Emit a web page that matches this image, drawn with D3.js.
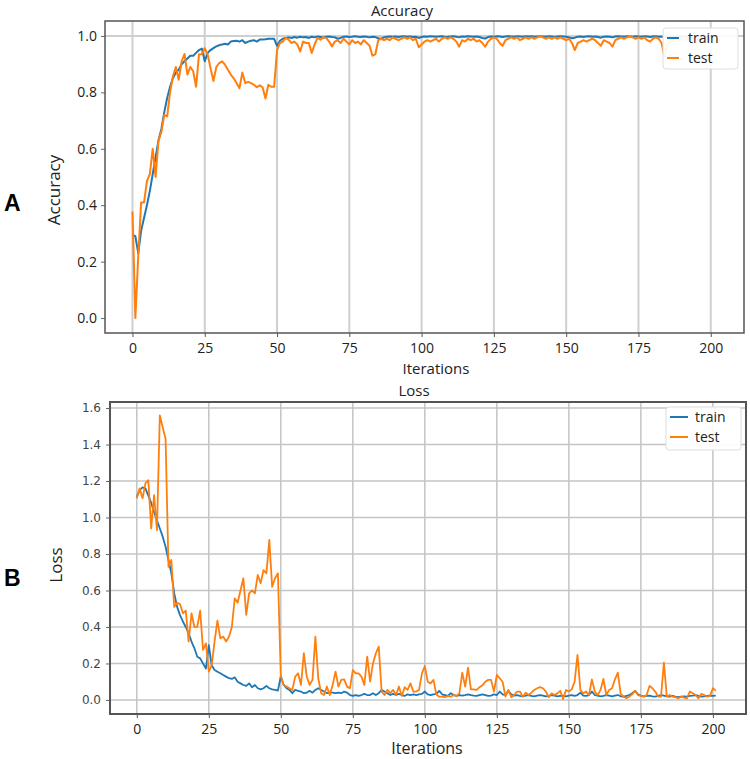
<!DOCTYPE html>
<html>
<head>
<meta charset="utf-8">
<script src="https://cdn.jsdelivr.net/npm/d3@7"></script>
<style>
body { margin: 0; background: #fff; }
svg { display: block; }
</style>
</head>
<body>
<svg id="chart" width="750" height="759"></svg>
<script>
// values, iterations 0..201
var accTrain = [
    0.295, 0.29, 0.23, 0.31, 0.355, 0.40, 0.45, 0.51, 0.57, 0.63,
    0.67, 0.73, 0.78, 0.82, 0.85, 0.87, 0.88, 0.90, 0.91, 0.92,
    0.93, 0.93, 0.94, 0.95, 0.955, 0.91, 0.94, 0.95, 0.957, 0.963,
    0.967, 0.97, 0.972, 0.97, 0.98, 0.982, 0.983, 0.98, 0.985, 0.975,
    0.98, 0.983, 0.985, 0.98, 0.987, 0.987, 0.988, 0.99, 0.99, 0.99,
    0.965, 0.983, 0.99, 0.993, 0.995, 0.993, 0.996, 0.994, 0.997, 0.995,
    0.996, 0.993, 0.997, 0.995, 0.998, 0.996, 0.994, 0.997, 0.998, 0.996,
    0.995, 0.99, 0.993, 0.997, 0.998, 0.996, 0.997, 0.999, 0.997, 0.996,
    0.998, 0.997, 0.995, 0.997, 0.996, 0.992, 0.99, 0.995, 0.997, 0.998,
    0.997, 0.998, 0.996, 0.998, 0.999, 0.997, 0.998, 0.996, 0.997, 0.993,
    0.996, 0.998, 0.997, 0.999, 0.998, 0.997, 0.998, 0.999, 0.997, 0.996,
    0.998, 0.999, 0.997, 0.995, 0.998, 0.997, 0.999, 0.998, 0.997, 0.998,
    0.996, 0.993, 0.991, 0.996, 0.998, 0.997, 0.999, 0.998, 0.996, 0.998,
    0.999, 0.998, 0.997, 0.999, 0.998, 0.997, 0.999, 0.998, 0.999, 0.997,
    0.998, 0.999, 0.998, 0.997, 0.999, 0.998, 0.996, 0.998, 0.999, 0.998,
    0.997, 0.995, 0.992, 0.994, 0.997, 0.998, 0.996, 0.998, 0.999, 0.997,
    0.998, 0.996, 0.994, 0.997, 0.998, 0.997, 0.995, 0.998, 0.999, 0.998,
    0.997, 0.999, 0.998, 0.997, 0.999, 0.998, 0.997, 0.999, 0.998, 0.996,
    0.998, 0.999, 0.997, 0.998, 0.996, 0.998, 0.999, 0.997, 0.998, 0.999,
    0.998, 0.997, 0.999, 0.998, 0.997, 0.999, 0.998, 0.999, 0.997, 0.998,
    0.999, 0.998
];
var accTest = [
    0.378, 0.0, 0.22, 0.41, 0.41, 0.485, 0.51, 0.60, 0.50, 0.63,
    0.66, 0.72, 0.715, 0.80, 0.857, 0.89, 0.845, 0.91, 0.936, 0.863,
    0.89, 0.875, 0.82, 0.934, 0.936, 0.957, 0.934, 0.886, 0.84, 0.89,
    0.904, 0.91, 0.898, 0.88, 0.863, 0.85, 0.833, 0.815, 0.87, 0.833,
    0.837, 0.833, 0.827, 0.818, 0.825, 0.818, 0.778, 0.827, 0.82, 0.82,
    0.95, 0.975, 0.98, 0.993, 0.987, 0.975, 0.98, 0.97, 0.945, 0.98,
    0.975, 0.975, 0.94, 0.97, 0.993, 0.987, 0.995, 0.993, 0.98, 0.963,
    0.98, 0.985, 0.975, 0.99, 0.98, 0.97, 0.985, 0.975, 0.98, 0.97,
    0.985, 0.975, 0.965, 0.93, 0.935, 0.985, 0.99, 0.985, 0.99, 0.985,
    0.995, 0.99, 0.985, 0.99, 0.995, 0.99, 0.995, 0.985, 0.99, 0.96,
    0.97, 0.98, 0.985, 0.98, 0.985, 0.99, 0.98, 0.99, 0.995, 0.99,
    0.995, 0.99, 0.98, 0.962, 0.985, 0.98, 0.99, 0.985, 0.99, 0.98,
    0.985, 0.975, 0.962, 0.98, 0.99, 0.995, 0.99, 0.975, 0.965, 0.985,
    0.99, 0.995, 0.99, 0.995, 0.985, 0.99, 0.995, 0.99, 0.995, 0.99,
    0.995, 1.0, 0.995, 0.99, 0.995, 0.99, 0.995, 0.99, 0.995, 0.99,
    0.985, 0.99, 0.975, 0.95, 0.975, 0.98, 0.985, 0.98, 0.985, 0.99,
    0.985, 0.975, 0.965, 0.985, 0.98, 0.975, 0.962, 0.985, 0.99, 0.995,
    0.99, 0.995, 1.0, 0.995, 0.99, 0.995, 0.99, 0.995, 0.985, 0.98,
    0.99, 0.995, 0.99, 0.975, 0.925, 0.97, 0.98, 0.985, 0.99, 0.985,
    0.99, 0.985, 0.99, 0.995, 0.985, 0.99, 0.985, 0.99, 0.995, 0.99,
    0.985, 0.99
];
var lossTrain = [
    1.114, 1.15, 1.165, 1.16, 1.12, 1.08, 1.03, 0.985, 0.94, 0.895,
    0.84, 0.767, 0.694, 0.585, 0.51, 0.465, 0.43, 0.40, 0.365, 0.32,
    0.283, 0.237, 0.228, 0.20, 0.172, 0.30, 0.19, 0.164, 0.155, 0.146,
    0.137, 0.128, 0.119, 0.115, 0.124, 0.10, 0.091, 0.082, 0.077, 0.091,
    0.07, 0.082, 0.064, 0.058, 0.064, 0.077, 0.064, 0.058, 0.055, 0.051,
    0.13, 0.082, 0.064, 0.055, 0.037, 0.055, 0.05, 0.046, 0.037, 0.04,
    0.05, 0.04, 0.055, 0.064, 0.055, 0.046, 0.037, 0.04, 0.04, 0.037,
    0.04, 0.037, 0.046, 0.04, 0.027, 0.022, 0.027, 0.022, 0.027, 0.033,
    0.027, 0.027, 0.037, 0.027, 0.037, 0.055, 0.046, 0.037, 0.027, 0.033,
    0.027, 0.033, 0.027, 0.022, 0.031, 0.027, 0.03, 0.027, 0.031, 0.033,
    0.046, 0.031, 0.027, 0.031, 0.033, 0.05, 0.031, 0.027, 0.022, 0.037,
    0.027, 0.022, 0.027, 0.024, 0.027, 0.031, 0.027, 0.024, 0.022, 0.027,
    0.031, 0.027, 0.022, 0.024, 0.031, 0.027, 0.046, 0.031, 0.027, 0.05,
    0.031, 0.024, 0.027, 0.022, 0.02, 0.024, 0.027, 0.022, 0.02, 0.024,
    0.027, 0.024, 0.02, 0.022, 0.027, 0.024, 0.02, 0.022, 0.024, 0.02,
    0.024, 0.027, 0.022, 0.027, 0.04, 0.024, 0.022, 0.027, 0.046, 0.027,
    0.024, 0.02, 0.022, 0.027, 0.024, 0.02, 0.024, 0.027, 0.02, 0.018,
    0.022, 0.027, 0.037, 0.05, 0.031, 0.024, 0.02, 0.022, 0.024, 0.02,
    0.018, 0.022, 0.027, 0.024, 0.02, 0.018, 0.022, 0.018, 0.015, 0.018,
    0.02, 0.018, 0.022, 0.024, 0.027, 0.022, 0.018, 0.02, 0.022, 0.024,
    0.022, 0.024
];
var lossTest = [
    1.105, 1.16, 1.105, 1.187, 1.205, 0.94, 1.123, 0.93, 1.56, 1.495,
    1.43, 0.73, 0.767, 0.51, 0.533, 0.526, 0.475, 0.49, 0.32, 0.475,
    0.40, 0.40, 0.49, 0.274, 0.31, 0.155, 0.19, 0.32, 0.435, 0.338,
    0.347, 0.32, 0.347, 0.40, 0.557, 0.533, 0.60, 0.667, 0.466, 0.584,
    0.60, 0.584, 0.685, 0.64, 0.712, 0.694, 0.877, 0.62, 0.667, 0.694,
    0.128, 0.082, 0.073, 0.064, 0.055, 0.128, 0.146, 0.082, 0.256, 0.128,
    0.082, 0.11, 0.347, 0.119, 0.037, 0.027, 0.073, 0.027, 0.082, 0.155,
    0.073, 0.11, 0.113, 0.073, 0.064, 0.164, 0.146, 0.146, 0.128, 0.082,
    0.237, 0.10, 0.20, 0.256, 0.292, 0.046, 0.027, 0.055, 0.037, 0.055,
    0.027, 0.073, 0.022, 0.07, 0.055, 0.091, 0.046, 0.046, 0.055, 0.146,
    0.186, 0.10, 0.091, 0.11, 0.03, 0.018, 0.018, 0.015, 0.022, 0.018,
    0.027, 0.022, 0.036, 0.15, 0.073, 0.177, 0.058, 0.058, 0.055, 0.07,
    0.08, 0.10, 0.11, 0.11, 0.046, 0.137, 0.119, 0.10, 0.018, 0.055,
    0.015, 0.027, 0.046, 0.046, 0.018, 0.04, 0.027, 0.04, 0.055, 0.064,
    0.07, 0.064, 0.046, 0.015, 0.036, 0.027, 0.036, 0.05, 0.004, 0.055,
    0.046, 0.058, 0.10, 0.247, 0.055, 0.036, 0.046, 0.027, 0.113, 0.046,
    0.027, 0.055, 0.115, 0.027, 0.055, 0.064, 0.113, 0.15, 0.033, 0.018,
    0.009, 0.018, 0.031, 0.051, 0.027, 0.022, 0.018, 0.027, 0.077, 0.064,
    0.046, 0.018, 0.018, 0.205, 0.018, 0.027, 0.018, 0.015, 0.009, 0.018,
    0.013, 0.009, 0.046, 0.037, 0.027, 0.009, 0.033, 0.027, 0.018, 0.022,
    0.064, 0.051
];
var xTicks = [0, 25, 50, 75, 100, 125, 150, 175, 200];
var accTicks = [0.0, 0.2, 0.4, 0.6, 0.8, 1.0];
var lossTicks = [0.0, 0.2, 0.4, 0.6, 0.8, 1.0, 1.2, 1.4, 1.6];
var seriesNames = ["train", "test"];
var colors = ["#1f77b4", "#ff7f0e"];

var svg = d3.select("#chart");
var txtFont = "'Open Sans', sans-serif";

function drawPanel(p) {
    var x = d3.scaleLinear().domain(p.xDomain).range([p.left, p.right]);
    var y = d3.scaleLinear().domain(p.yDomain).range([p.bottom, p.top]);
    var g = svg.append("g");

    g.append("clipPath").attr("id", p.id + "-clip")
        .append("rect")
        .attr("x", p.left).attr("y", p.top)
        .attr("width", p.right - p.left).attr("height", p.bottom - p.top);

    // grid
    g.append("g").selectAll("line").data(xTicks).enter()
        .append("line")
        .attr("x1", d => x(d)).attr("x2", d => x(d))
        .attr("y1", p.top).attr("y2", p.bottom)
        .attr("stroke", p.gridColor).attr("stroke-width", p.gridWidth);
    g.append("g").selectAll("line").data(p.hGrid).enter()
        .append("line")
        .attr("x1", p.left).attr("x2", p.right)
        .attr("y1", d => y(d)).attr("y2", d => y(d))
        .attr("stroke", p.gridColor).attr("stroke-width", p.gridWidth);

    // lines
    var line = d3.line().x((d, i) => x(i)).y(d => y(d));
    var lines = g.append("g").attr("clip-path", "url(#" + p.id + "-clip)");
    p.series.forEach((s, k) => {
        lines.append("path")
            .datum(s)
            .attr("fill", "none")
            .attr("stroke", colors[k])
            .attr("stroke-width", p.lineWidth)
            .attr("stroke-linejoin", "round")
            .attr("d", line);
    });

    // axes
    var xAxis = g.append("g")
        .attr("transform", "translate(0," + p.bottom + ")")
        .call(d3.axisBottom(x).tickValues(xTicks).tickSize(4).tickPadding(6));
    xAxis.select(".domain").remove();
    xAxis.selectAll("line").attr("stroke", "#555");
    xAxis.selectAll("text")
        .attr("font-family", txtFont).attr("font-size", 14)
        .attr("fill", "#222");

    var yAxis = g.append("g")
        .attr("transform", "translate(" + p.left + ",0)")
        .call(d3.axisLeft(y).tickValues(p.yTicks).tickFormat(d3.format(".1f"))
            .tickSize(4).tickPadding(p.yPad));
    yAxis.select(".domain").remove();
    yAxis.selectAll("line").attr("stroke", "#666");
    yAxis.selectAll("text")
        .attr("font-family", p.yFont).attr("font-size", p.yFontSize)
        .attr("fill", p.yColor);

    // frame
    g.append("rect")
        .attr("x", p.left).attr("y", p.top)
        .attr("width", p.right - p.left).attr("height", p.bottom - p.top)
        .attr("fill", "none").attr("stroke", "#555").attr("stroke-width", p.frameWidth);

    // titles
    g.append("text").attr("x", p.titleX).attr("y", p.titleY)
        .attr("text-anchor", "middle")
        .attr("font-family", txtFont).attr("font-size", 15).attr("fill", "#222")
        .text(p.title);
    g.append("text").attr("x", p.xLabelX).attr("y", p.xLabelY)
        .attr("text-anchor", "middle")
        .attr("font-family", txtFont).attr("font-size", p.xLabelSize).attr("fill", "#222")
        .text("Iterations");
    g.append("text")
        .attr("transform", "translate(" + p.yLabelX + "," + p.yLabelY + ") rotate(-90)")
        .attr("text-anchor", "middle")
        .attr("font-family", txtFont).attr("font-size", 17).attr("fill", "#222")
        .text(p.yLabel);
    g.append("text").attr("x", 4).attr("y", p.letterY)
        .attr("font-family", "'Liberation Sans', Arial, sans-serif")
        .attr("font-weight", "bold").attr("font-size", 23).attr("fill", "#000")
        .text(p.letter);

    // legend
    var lg = g.append("g").attr("transform", "translate(" + p.legend.x + "," + p.legend.y + ")");
    lg.append("rect")
        .attr("width", p.legend.w).attr("height", p.legend.h)
        .attr("rx", 3)
        .attr("fill", "#fff").attr("fill-opacity", 0.92)
        .attr("stroke", "#ddd");
    seriesNames.forEach((name, k) => {
        var yy = 10 + k * 20;
        lg.append("line")
            .attr("x1", 4).attr("x2", 4 + p.legend.sw)
            .attr("y1", yy).attr("y2", yy)
            .attr("stroke", colors[k]).attr("stroke-width", 2);
        lg.append("text")
            .attr("x", p.legend.tx).attr("y", yy + 5)
            .attr("font-family", txtFont).attr("font-size", 14).attr("fill", "#222")
            .text(name);
    });
}

drawPanel({
    id: "acc", series: [accTrain, accTest],
    left: 105, right: 744, top: 21, bottom: 333,
    xDomain: [-9.5, 211.5], yDomain: [-0.053, 1.053],
    yTicks: accTicks, hGrid: [1.0],
    gridColor: "#cfcfcf", gridWidth: 2, lineWidth: 2, frameWidth: 1.5,
    yFont: txtFont, yFontSize: 14, yColor: "#222", yPad: 4,
    title: "Accuracy", titleX: 402, titleY: 16,
    xLabelX: 436, xLabelY: 374, xLabelSize: 15,
    yLabel: "Accuracy", yLabelX: 60, yLabelY: 190,
    letter: "A", letterY: 211,
    legend: {x: 663, y: 28, w: 75, h: 41, sw: 12, tx: 25}
});

drawPanel({
    id: "loss", series: [lossTrain, lossTest],
    left: 110, right: 746, top: 402, bottom: 714,
    xDomain: [-9.3, 211.5], yDomain: [-0.077, 1.633],
    yTicks: lossTicks, hGrid: lossTicks,
    gridColor: "#c4c4c4", gridWidth: 1.5, lineWidth: 1.8, frameWidth: 2,
    yFont: "'DejaVu Sans', sans-serif", yFontSize: 12, yColor: "#444", yPad: 5,
    title: "Loss", titleX: 414, titleY: 396,
    xLabelX: 427, xLabelY: 754, xLabelSize: 16,
    yLabel: "Loss", yLabelX: 62, yLabelY: 565,
    letter: "B", letterY: 586,
    legend: {x: 666, y: 407, w: 75, h: 43, sw: 18, tx: 29}
});
</script>
</body>
</html>
